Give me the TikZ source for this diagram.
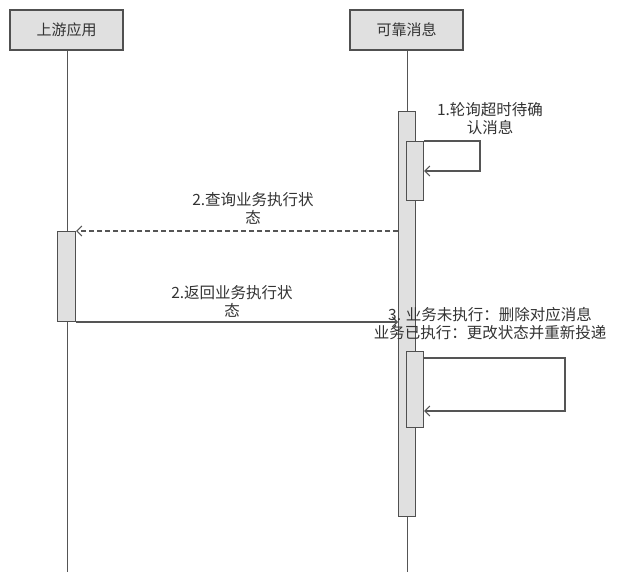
\documentclass[tikz,border=0pt]{standalone}
\usepackage{fontspec}
\newfontfamily\cjk{Noto Sans CJK SC}
\usetikzlibrary{arrows.meta}
\definecolor{boxfill}{HTML}{E0E0E0}
\definecolor{boxline}{HTML}{505050}
\definecolor{ln}{HTML}{555555}
\definecolor{txt}{HTML}{333333}
\begin{document}
\begin{tikzpicture}[x=1pt,y=-1pt,
  header/.style={draw=boxline,fill=boxfill,line width=1.2pt,minimum width=113pt,minimum height=40pt,inner sep=0pt,font=\cjk\fontsize{15}{15}\selectfont,text=txt},
  actbar/.style={draw=boxline,fill=boxfill,line width=1pt},
  lifeline/.style={draw=ln,line width=1pt},
  msg/.style={draw=ln,line width=1.1pt},
  tip/.style={-{Straight Barb[length=5pt,width=10pt]}},
  lbl/.style={font=\cjk\fontsize{15.5}{18}\selectfont,text=txt,align=center,inner sep=0pt}]
\useasboundingbox (0,0) rectangle (624,572);
\fill[white] (0,0) rectangle (624,572);
% lifelines
\coordinate (l1top) at (67,50);
\coordinate (l1bot) at (67,572);
\coordinate (l2top) at (407,50);
\coordinate (l2bot) at (407,572);
\draw[lifeline] (l1top) -- (l1bot);
\draw[lifeline] (l2top) -- (l2bot);
% headers
\node[header] (app) at (66.5,30) {上游应用};
\node[header] (msgsvc) at (406.5,30) {可靠消息};
% activation bars
\node[actbar,minimum width=17pt,minimum height=405pt,inner sep=0pt,anchor=north west] (mainbar) at (398,111) {};
\node[actbar,minimum width=18pt,minimum height=90pt,inner sep=0pt,anchor=north west] (leftbar) at (57,231) {};
\node[actbar,minimum width=17pt,minimum height=59pt,inner sep=0pt,anchor=north west] (sub1) at (406,141) {};
\node[actbar,minimum width=17pt,minimum height=76pt,inner sep=0pt,anchor=north west] (sub2) at (406,351) {};
% self loop 1
\coordinate (s1a) at (480,141);
\coordinate (s1b) at (480,171);
\draw[msg,tip] (sub1.north east) -- (s1a) -- (s1b) -- (sub1.east |- s1b);
\node[lbl] (t1) at (490,119) {1.轮询超时待确\\认消息};
% query dashed
\draw[msg,dash pattern=on 5pt off 3pt,tip] (mainbar.west |- leftbar.north) -- (leftbar.north east);
\node[lbl] (t2) at (253,208) {2.查询业务执行状\\态};
% return
\draw[msg,tip] (leftbar.south east) -- (mainbar.west |- leftbar.south);
\node[lbl] (t3) at (232,301) {2.返回业务执行状\\态};
% self loop 2
\coordinate (s2a) at (565,358);
\coordinate (s2b) at (565,411);
\draw[msg,tip] (sub2.east |- s2a) -- (s2a) -- (s2b) -- (sub2.east |- s2b);
\node[lbl] (t4) at (490,324) {3. 业务未执行：删除对应消息\\业务已执行：更改状态并重新投递};
\end{tikzpicture}
\end{document}
